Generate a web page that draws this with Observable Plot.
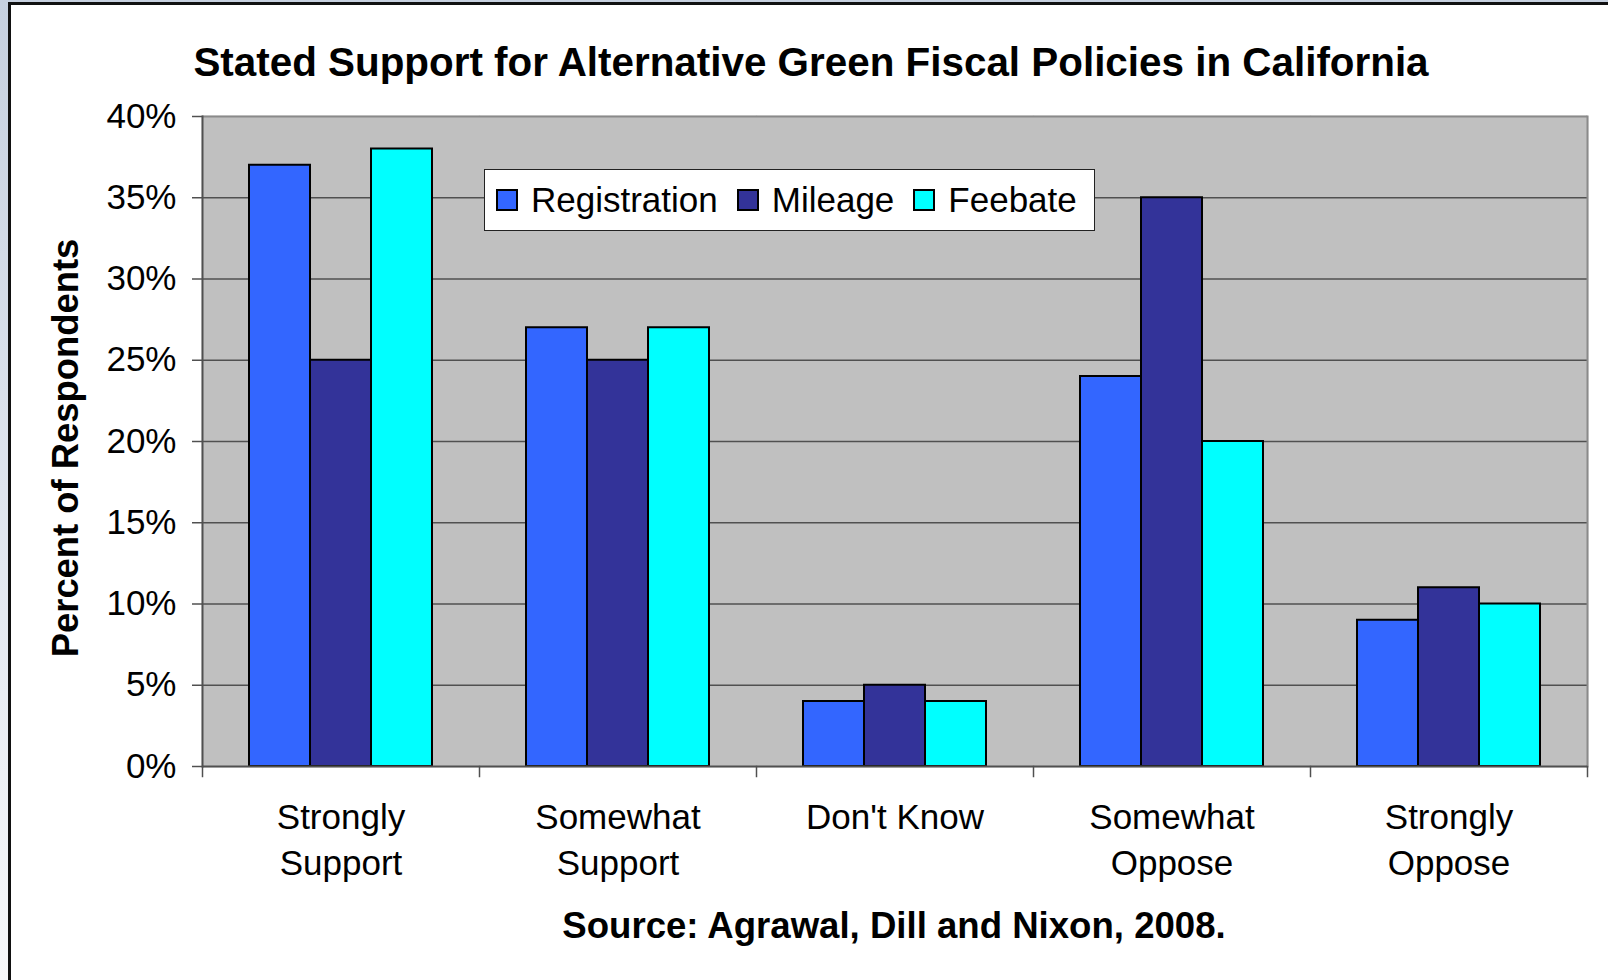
<!DOCTYPE html>
<html>
<head>
<meta charset="utf-8">
<script src="https://cdn.jsdelivr.net/npm/d3@7"></script>
<script src="https://cdn.jsdelivr.net/npm/@observablehq/plot@0.6"></script>
<style>
  html, body { margin: 0; padding: 0; }
  body {
    width: 1608px; height: 980px; overflow: hidden; position: relative;
    background: linear-gradient(to bottom, #c6d0df 0%, #dfe5ee 50%, #f7f8fa 100%);
    font-family: "Liberation Sans", Arial, sans-serif;
  }
  #frame {
    position: absolute; left: 8px; top: 2px; width: 1700px; height: 1100px;
    border-left: 3px solid #111; border-top: 3px solid #111; background: #fff;
  }
  #chart { position: absolute; left: 0; top: 0; }
  .title {
    position: absolute; left: 811px; top: 42px; transform: translateX(-50%);
    font-weight: bold; font-size: 40.4px; line-height: 1; white-space: nowrap; color: #000;
  }
  .source {
    position: absolute; left: 894px; top: 908px; transform: translateX(-50%);
    font-weight: bold; font-size: 36.6px; line-height: 1; white-space: nowrap; color: #000;
  }
  .ylabel {
    position: absolute; left: 66px; top: 448px; transform: translate(-50%, -50%) rotate(-90deg);
    font-weight: bold; font-size: 36.4px; line-height: 1; white-space: nowrap; color: #000;
  }
  .legend {
    position: absolute; left: 484px; top: 169px; width: 611px; height: 62px; box-sizing: border-box;
    background: #fff; border: 1px solid #222; display: flex; align-items: center; padding-left: 11px;
  }
  .legend .item { display: flex; align-items: center; margin-right: 19px; }
  .legend .sw { width: 22px; height: 22px; box-sizing: border-box; border: 2px solid #000; }
  .legend .lab { margin-left: 13px; font-size: 35px; color: #000; }
</style>
</head>
<body>
<div id="frame"></div>
<div id="chart"></div>
<script>
const titleText = "Stated Support for Alternative Green Fiscal Policies in California";
const sourceText = "Source: Agrawal, Dill and Nixon, 2008.";
const yLabelText = "Percent of Respondents";

const categories = ["Strongly Support", "Somewhat Support", "Don't Know", "Somewhat Oppose", "Strongly Oppose"];
const categoryLabels = ["Strongly\nSupport", "Somewhat\nSupport", "Don't Know", "Somewhat\nOppose", "Strongly\nOppose"];
const series = ["Registration", "Mileage", "Feebate"];
const colors = ["#3366ff", "#333399", "#00ffff"];

const registration = [37, 27, 4, 24, 9];
const mileage = [25, 25, 5, 35, 11];
const feebate = [38, 27, 4, 20, 10];

const yTicks = [0, 5, 10, 15, 20, 25, 30, 35, 40];
const gridTicks = [5, 10, 15, 20, 25, 30, 35];

const seriesValues = [registration, mileage, feebate];
const data = [];
categories.forEach((c, i) => {
  series.forEach((s, j) => data.push({category: c, series: s, value: seriesValues[j][i]}));
});

const W = 1608, H = 980;
const mTop = 116, mBottom = 214, mLeft = 201, mRight = 20;
const innerH = H - mTop - mBottom;

const chart = Plot.plot({
  width: W,
  height: H,
  marginTop: mTop,
  marginBottom: mBottom,
  marginLeft: mLeft,
  marginRight: mRight,
  style: {background: "transparent", fontFamily: "'Liberation Sans', Arial, sans-serif", fontSize: "35px", color: "#000", overflow: "visible"},
  fx: {domain: categories, padding: 0},
  x: {domain: series, paddingInner: 0, paddingOuter: 0.75, axis: null},
  y: {domain: [0, 40]},
  color: {domain: series, range: colors},
  marks: [
    Plot.frame({fill: "#c0c0c0", stroke: "#c0c0c0", strokeWidth: 1.5}),
    Plot.gridY(gridTicks, {stroke: "#505050", strokeOpacity: 1, strokeWidth: 1.4}),
    Plot.ruleY([40], {stroke: "#8a8a8a", strokeWidth: 2}),
    Plot.frame({anchor: "right", facetAnchor: "right", stroke: "#8a8a8a", strokeWidth: 2}),
    Plot.barY(data, {fx: "category", x: "series", y: "value", fill: "series", stroke: "#000", strokeWidth: 2, inset: 0}),
    Plot.ruleY([0], {stroke: "#505050", strokeWidth: 2}),
    Plot.frame({anchor: "left", facetAnchor: "left", stroke: "#505050", strokeWidth: 2}),
    Plot.frame({anchor: "left", insetTop: innerH, insetBottom: -10, stroke: "#505050", strokeWidth: 1.5}),
    Plot.frame({anchor: "right", facetAnchor: "right", insetTop: innerH, insetBottom: -10, stroke: "#505050", strokeWidth: 1.5}),
    Plot.axisY({ticks: yTicks, tickFormat: d => d + "%", tickSize: 10, tickPadding: 16, fontSize: 35, stroke: "#505050", strokeWidth: 1.5, label: null}),
    Plot.axisFx({anchor: "bottom", tickSize: 0, tickPadding: 30, fontSize: 35, lineHeight: 1.31, label: null,
      tickFormat: d => categoryLabels[categories.indexOf(d)]})
  ]
});
document.getElementById("chart").appendChild(chart);

function addDiv(cls, text) {
  const d = document.createElement("div");
  d.className = cls;
  d.textContent = text;
  document.body.appendChild(d);
  return d;
}
addDiv("title", titleText);
addDiv("ylabel", yLabelText);
addDiv("source", sourceText);

const legend = document.createElement("div");
legend.className = "legend";
series.forEach((s, i) => {
  const item = document.createElement("div");
  item.className = "item";
  const sw = document.createElement("div");
  sw.className = "sw";
  sw.style.background = colors[i];
  const lab = document.createElement("span");
  lab.className = "lab";
  lab.textContent = s;
  item.appendChild(sw);
  item.appendChild(lab);
  legend.appendChild(item);
});
document.body.appendChild(legend);
</script>
</body>
</html>
